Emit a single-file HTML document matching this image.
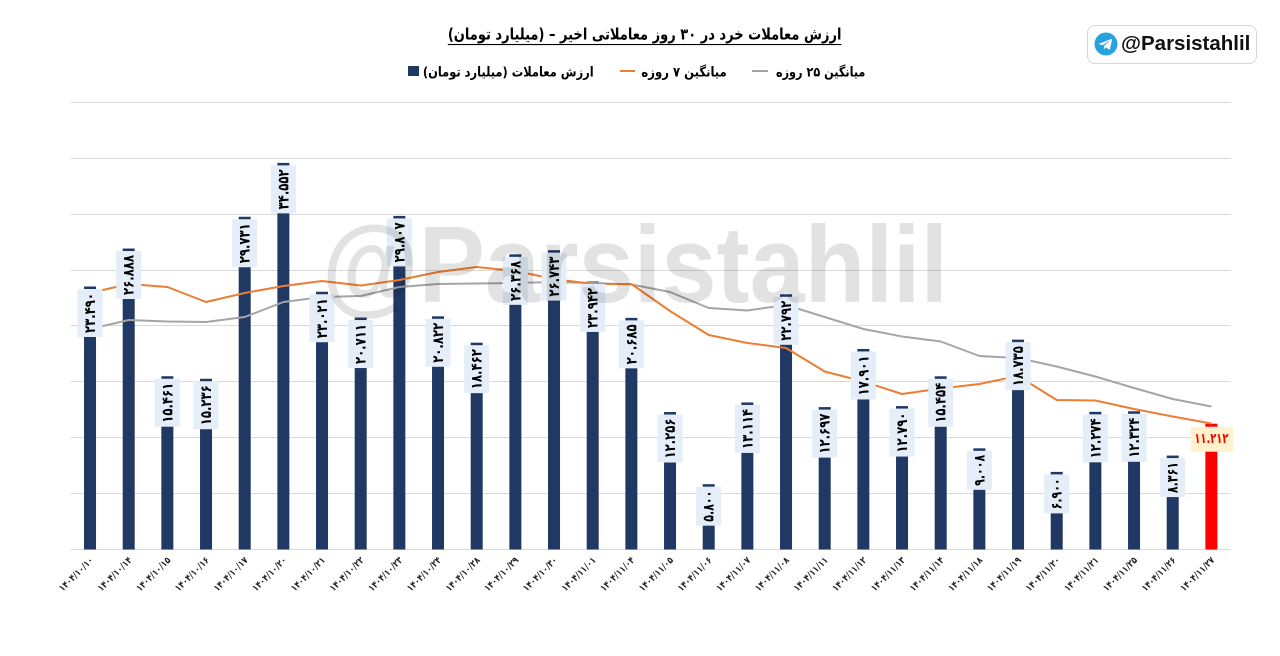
<!DOCTYPE html>
<html><head><meta charset="utf-8">
<style>
html,body{margin:0;padding:0;background:#fff;}
body{width:1280px;height:656px;position:relative;overflow:hidden;}
.fa{font-family:"DejaVu Sans",sans-serif;font-weight:bold;white-space:nowrap;position:absolute;color:#000;}
#title{left:0;width:1290px;top:25px;text-align:center;font-size:14px;line-height:20px;}
#title span.t{display:inline-block;transform:scale(0.93,1.12);transform-origin:50% 50%;text-decoration:underline;text-underline-offset:4px;text-decoration-thickness:1px;}
#title span.s{font-size:14px;}
.lg{font-size:12.5px;line-height:16px;top:64px;transform-origin:100% 50%;}
#logo{position:absolute;left:1087px;top:25px;width:168px;height:37px;border:1px solid #d6d6d6;border-radius:8px;background:#fff;}
#logo .tx{position:absolute;left:33px;top:7px;font-family:"Liberation Sans",sans-serif;font-weight:bold;font-size:20.5px;line-height:22px;color:#111;}
</style></head><body>
<svg width="1280" height="656" viewBox="0 0 1280 656" style="position:absolute;left:0;top:0">
<g stroke="#d9d9d9" stroke-width="1">
<line x1="70.7" x2="1230.7" y1="102.5" y2="102.5"/>
<line x1="70.7" x2="1230.7" y1="158.5" y2="158.5"/>
<line x1="70.7" x2="1230.7" y1="214.5" y2="214.5"/>
<line x1="70.7" x2="1230.7" y1="270.5" y2="270.5"/>
<line x1="70.7" x2="1230.7" y1="325.5" y2="325.5"/>
<line x1="70.7" x2="1230.7" y1="381.5" y2="381.5"/>
<line x1="70.7" x2="1230.7" y1="437.5" y2="437.5"/>
<line x1="70.7" x2="1230.7" y1="493.5" y2="493.5"/>
<line x1="70.7" x2="1230.7" y1="549.5" y2="549.5"/>
</g>
<g fill="#1f3864" id="bars"></g>
<polyline id="gray" fill="none" stroke="#a5a5a5" stroke-width="2" stroke-linejoin="round"/>
<polyline id="orange" fill="none" stroke="#ed7d31" stroke-width="2" stroke-linejoin="round"/>
<g id="labels"></g>
<g id="xlabels"></g>
<text x="322" y="302" font-family="Liberation Sans, sans-serif" font-weight="bold" font-size="109" textLength="626" lengthAdjust="spacingAndGlyphs" fill="#e2e2e2" style="mix-blend-mode:multiply">@Parsistahlil</text>
</svg>

<div id="title" class="fa"><span class="t">ارزش معاملات خرد در ۳۰ روز معاملاتی اخیر – <span class="s">(میلیارد تومان)</span></span></div>

<div style="position:absolute;left:408px;top:66px;width:11px;height:10px;background:#1f3864"></div>
<div class="fa lg" style="right:686px;transform:scale(0.915,1.08)">ارزش معاملات (میلیارد تومان)</div>
<div style="position:absolute;left:620px;top:70px;width:15px;height:2px;background:#ed7d31"></div>
<div class="fa lg" style="right:553px;transform:scale(0.93,1.08)">میانگین ۷ روزه</div>
<div style="position:absolute;left:752px;top:70px;width:16px;height:2px;background:#a5a5a5"></div>
<div class="fa lg" style="right:415px;transform:scale(0.9,1.08)">میانگین ۲۵ روزه</div>

<div id="logo">
<svg width="24" height="24" viewBox="0 0 24 24" style="position:absolute;left:6px;top:6px">
<circle cx="12" cy="12" r="11.5" fill="#27a2e0"/>
<path d="M5.3 11.6 L17.2 7 C17.8 6.8 18.2 7.1 18 7.8 L16 17 C15.8 17.7 15.4 17.8 14.9 17.5 L11.9 15.3 L10.5 16.7 C10.3 16.9 10.2 17 9.9 17 L10.1 13.9 L15.7 8.9 C15.9 8.7 15.6 8.6 15.4 8.8 L8.4 13.2 L5.4 12.3 C4.8 12.1 4.8 11.8 5.3 11.6 Z" fill="#fff"/>
</svg>
<div class="tx">@Parsistahlil</div>
</div>

<script>
(function(){
var NS="http://www.w3.org/2000/svg";
var vals=[23.490,26.888,15.461,15.236,29.731,34.552,23.021,20.711,29.807,20.822,18.462,26.368,26.743,23.942,20.685,12.256,5.800,13.114,22.792,12.697,17.901,12.790,15.454,9.008,18.735,6.900,12.274,12.324,8.361,11.212];
var labs=["۲۳.۴۹۰","۲۶.۸۸۸","۱۵.۴۶۱","۱۵.۲۳۶","۲۹.۷۳۱","۳۴.۵۵۲","۲۳.۰۲۱","۲۰.۷۱۱","۲۹.۸۰۷","۲۰.۸۲۲","۱۸.۴۶۲","۲۶.۳۶۸","۲۶.۷۴۳","۲۳.۹۴۲","۲۰.۶۸۵","۱۲.۲۵۶","۵.۸۰۰","۱۳.۱۱۴","۲۲.۷۹۲","۱۲.۶۹۷","۱۷.۹۰۱","۱۲.۷۹۰","۱۵.۴۵۴","۹.۰۰۸","۱۸.۷۳۵","۶.۹۰۰","۱۲.۲۷۴","۱۲.۳۲۴","۸.۳۶۱","۱۱.۲۱۲"];
var dates=["۱۴۰۴/۱۰/۱۰","۱۴۰۴/۱۰/۱۴","۱۴۰۴/۱۰/۱۵","۱۴۰۴/۱۰/۱۶","۱۴۰۴/۱۰/۱۷","۱۴۰۴/۱۰/۲۰","۱۴۰۴/۱۰/۲۱","۱۴۰۴/۱۰/۲۲","۱۴۰۴/۱۰/۲۳","۱۴۰۴/۱۰/۲۴","۱۴۰۴/۱۰/۲۸","۱۴۰۴/۱۰/۲۹","۱۴۰۴/۱۰/۳۰","۱۴۰۴/۱۱/۰۱","۱۴۰۴/۱۱/۰۴","۱۴۰۴/۱۱/۰۵","۱۴۰۴/۱۱/۰۶","۱۴۰۴/۱۱/۰۷","۱۴۰۴/۱۱/۰۸","۱۴۰۴/۱۱/۱۱","۱۴۰۴/۱۱/۱۲","۱۴۰۴/۱۱/۱۳","۱۴۰۴/۱۱/۱۴","۱۴۰۴/۱۱/۱۸","۱۴۰۴/۱۱/۱۹","۱۴۰۴/۱۱/۲۰","۱۴۰۴/۱۱/۲۱","۱۴۰۴/۱۱/۲۵","۱۴۰۴/۱۱/۲۶","۱۴۰۴/۱۱/۲۷"];
var gray=[329,320,321.5,322,317,302,297,296,287,284,283.5,283,282,283,284.5,292,308,310.5,305,317,329,336.5,341.5,356,358,366.5,376.5,388,399,406.5];
var orng=[293,284,287,302,293,286,281,285.5,280,272,267,271,279,284,284,311,335,343,348,371.5,381.5,394,388.5,384,376,400,400.5,409,416.5,423.5];
function cx(i){return 90.03+38.667*i;}
function el(t,a,p,txt){var e=document.createElementNS(NS,t);for(var k in a)e.setAttribute(k,a[k]);if(txt)e.textContent=txt;p.appendChild(e);return e;}
var bars=document.getElementById("bars"),lg=document.getElementById("labels"),xl=document.getElementById("xlabels");
var gp=[],op=[];
for(var i=0;i<30;i++){
 var x=cx(i),top=549-vals[i]*11.175;
 el("rect",{x:(x-6).toFixed(2),y:top.toFixed(2),width:12,height:(549.5-top).toFixed(2),fill:i==29?"#ff0000":"#1f3864"},bars);
 gp.push(x.toFixed(1)+","+gray[i]);op.push(x.toFixed(1)+","+orng[i]);
 if(i<29){
  var n=labs[i].length,h=n>=6?48:39,bt=top+2.5;
  el("rect",{x:(x-12.5).toFixed(2),y:bt.toFixed(2),width:25,height:h,fill:"#e4edf8"},lg);
  el("text",{transform:"translate("+x.toFixed(2)+","+(bt+h/2).toFixed(2)+") rotate(-90)","text-anchor":"middle","dominant-baseline":"central","font-family":"DejaVu Sans, sans-serif","font-weight":"bold","font-size":"15",textLength:h-8,lengthAdjust:"spacingAndGlyphs",fill:"#000"},lg,labs[i]);
 } else {
  el("rect",{x:(x-20.5).toFixed(2),y:(top+3).toFixed(2),width:42,height:25,fill:"#fff2cc"},lg);
  el("text",{x:x.toFixed(2),y:(top+3+12.5).toFixed(2),"text-anchor":"middle","dominant-baseline":"central","font-family":"DejaVu Sans, sans-serif","font-weight":"bold","font-size":"14",textLength:34,lengthAdjust:"spacingAndGlyphs",fill:"#ff0000"},lg,labs[i]);
 }
 el("text",{transform:"translate("+(x+2).toFixed(2)+",559) rotate(-45)","text-anchor":"end","dominant-baseline":"central","font-family":"DejaVu Sans, sans-serif","font-weight":"bold","font-size":"9.5",textLength:44,lengthAdjust:"spacingAndGlyphs",fill:"#222"},xl,dates[i]);
}
document.getElementById("gray").setAttribute("points",gp.join(" "));
document.getElementById("orange").setAttribute("points",op.join(" "));
})();
</script>
</body></html>
